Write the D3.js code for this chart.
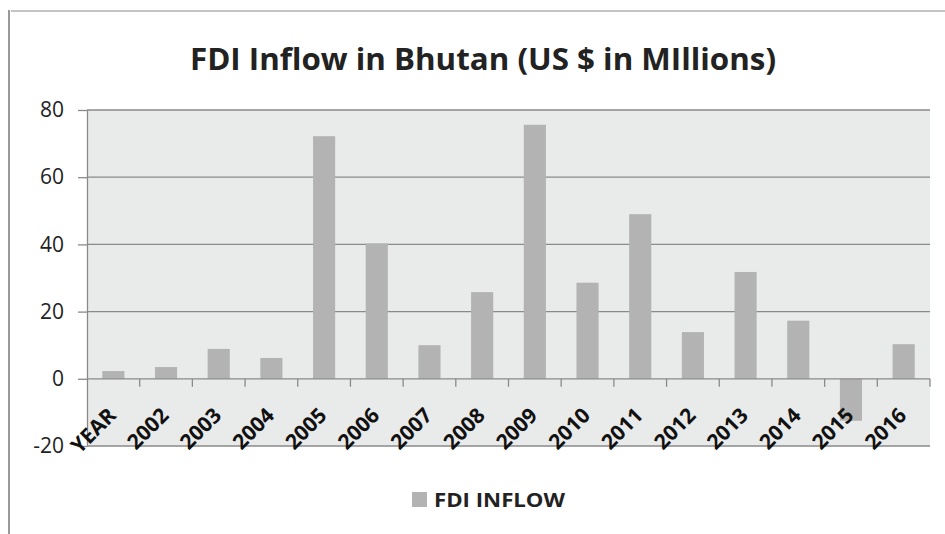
<!DOCTYPE html>
<html>
<head>
<meta charset="utf-8">
<script src="https://cdn.jsdelivr.net/npm/d3@7"></script>
<style>
  body { margin: 0; background: #fff; }
  svg { font-family: "Open Sans", "DejaVu Sans", sans-serif; }
</style>
</head>
<body>
<div id="chart"></div>
<script>
"use strict";

// values
var years = ["YEAR", "2002", "2003", "2004", "2005", "2006", "2007", "2008",
             "2009", "2010", "2011", "2012", "2013", "2014", "2015", "2016"];
var fdiInflow = [2.3, 3.5, 8.9, 6.2, 72.2, 40.3, 10.0, 25.8,
                 75.6, 28.6, 49.0, 13.9, 31.8, 17.3, -12.5, 10.3];
var yTicks = [-20, 0, 20, 40, 60, 80];

var width = 945, height = 534;
var margin = { top: 110, right: 15, bottom: 88, left: 87 };

var svg = d3.select("#chart").append("svg")
    .attr("width", width)
    .attr("height", height);

// chart frame (only left + top border are visible)
svg.append("line").attr("x1", 9).attr("x2", 9).attr("y1", 10).attr("y2", height)
    .attr("stroke", "#999").attr("stroke-width", 2);
svg.append("line").attr("x1", 11).attr("x2", width).attr("y1", 11).attr("y2", 11)
    .attr("stroke", "#c4c4c4").attr("stroke-width", 2);

var x = d3.scaleBand().domain(years)
    .range([margin.left, width - margin.right])
    .paddingInner(0.58).paddingOuter(0.29);
var band = d3.scaleBand().domain(years).range([margin.left, width - margin.right]);
var y = d3.scaleLinear().domain([-20, 80]).range([height - margin.bottom, margin.top]);

// plot area
svg.append("rect")
    .attr("x", margin.left).attr("y", y(80))
    .attr("width", width - margin.right - margin.left)
    .attr("height", y(-20) - y(80))
    .attr("fill", "#e9eaea");

// grid
svg.append("g").selectAll("line")
    .data(yTicks.filter(function (d) { return d !== 0; }))
    .enter().append("line")
    .attr("x1", margin.left).attr("x2", width - margin.right)
    .attr("y1", function (d) { return y(d); })
    .attr("y2", function (d) { return y(d); })
    .attr("stroke", "#8a8a8a").attr("stroke-width", 1.3);

// y axis
var yAxis = svg.append("g")
    .attr("transform", "translate(" + margin.left + ",0)")
    .call(d3.axisLeft(y).tickValues(yTicks).tickSize(9).tickSizeOuter(0).tickPadding(14)
        .tickFormat(function (d) { return String(d); }));
yAxis.select(".domain").attr("stroke", "#8a8a8a").attr("stroke-width", 1.3);
yAxis.selectAll(".tick line").attr("stroke", "#8a8a8a").attr("stroke-width", 1.3);
yAxis.selectAll(".tick text")
    .attr("font-size", "21px").attr("fill", "#222")
    .attr("font-family", "'Open Sans', sans-serif");

// bars
svg.append("g").selectAll("rect")
    .data(fdiInflow)
    .enter().append("rect")
    .attr("x", function (d, i) { return x(years[i]); })
    .attr("width", x.bandwidth())
    .attr("y", function (d) { return y(Math.max(0, d)); })
    .attr("height", function (d) { return Math.abs(y(d) - y(0)); })
    .attr("fill", "#b2b3b2");

// x axis at zero
var xAxis = svg.append("g")
    .attr("transform", "translate(0," + y(0) + ")");
xAxis.append("line")
    .attr("x1", margin.left).attr("x2", width - margin.right)
    .attr("stroke", "#8a8a8a").attr("stroke-width", 1.3);
xAxis.selectAll(".tk")
    .data(years.slice(1).concat(["end"]))
    .enter().append("line")
    .attr("class", "tk")
    .attr("x1", function (d, i) { return margin.left + band.bandwidth() * (i + 1); })
    .attr("x2", function (d, i) { return margin.left + band.bandwidth() * (i + 1); })
    .attr("y1", 0).attr("y2", 8)
    .attr("stroke", "#8a8a8a").attr("stroke-width", 1.3);

xAxis.selectAll("text")
    .data(years)
    .enter().append("text")
    .attr("text-anchor", "end")
    .attr("font-size", "21px")
    .attr("font-weight", "bold")
    .attr("fill", "#111")
    .attr("transform", function (d) {
        var cx = band(d) + band.bandwidth() / 2 + 4;
        return "translate(" + cx + ",38) rotate(-45)";
    })
    .text(function (d) { return d; });

// title
var title = svg.append("text")
    .attr("x", 483).attr("y", 70)
    .attr("text-anchor", "middle")
    .attr("font-size", "31px")
    .attr("font-weight", "bold")
    .attr("fill", "#222")
    .text("FDI Inflow in Bhutan (US $ in MIllions)");
if (Math.abs(title.node().getComputedTextLength() - 586) > 4) {
    title.attr("textLength", 586).attr("lengthAdjust", "spacingAndGlyphs");
}

// legend
svg.append("rect")
    .attr("x", 412).attr("y", 492).attr("width", 15).attr("height", 15)
    .attr("fill", "#b2b3b2");
var leg = svg.append("text")
    .attr("x", 434).attr("y", 507)
    .attr("font-size", "20px")
    .attr("font-weight", "bold")
    .attr("fill", "#222")
    .text("FDI INFLOW");
if (Math.abs(leg.node().getComputedTextLength() - 131) > 3) {
    leg.attr("textLength", 131).attr("lengthAdjust", "spacingAndGlyphs");
}
</script>
</body>
</html>
